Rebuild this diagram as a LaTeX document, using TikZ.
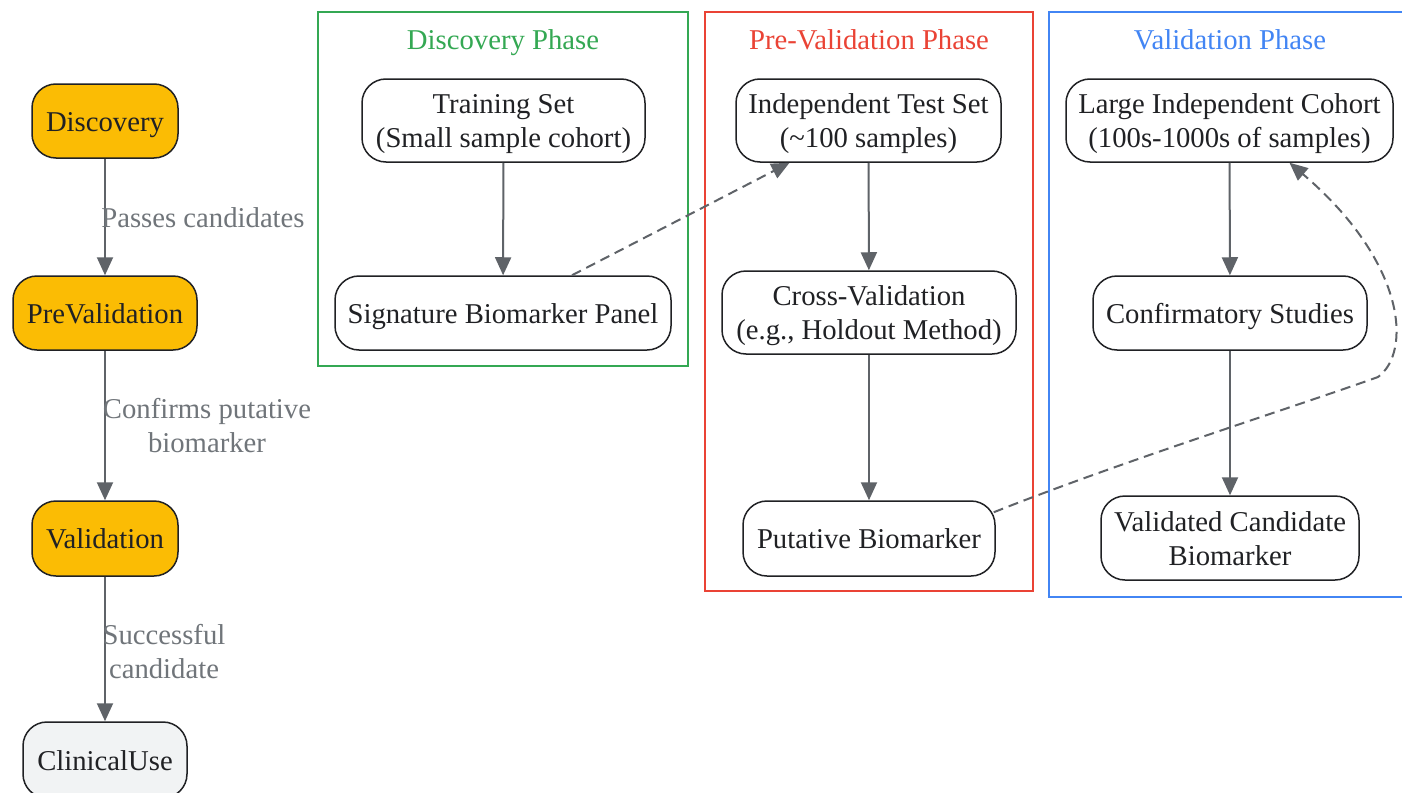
\documentclass[tikz,border=0pt]{standalone}
\usepackage{fontspec}
\setmainfont{Liberation Serif}
\usetikzlibrary{arrows.meta}
\definecolor{hl}{HTML}{FBBC04}
\definecolor{cu}{HTML}{F1F3F4}
\definecolor{edgec}{HTML}{5F6368}
\definecolor{lblc}{HTML}{70757A}
\definecolor{grc}{HTML}{34A853}
\definecolor{rdc}{HTML}{EA4335}
\definecolor{blc}{HTML}{4285F4}
\definecolor{ink}{HTML}{202124}
\newcommand{\bigfont}{\fontsize{28.7}{34}\selectfont}
\tikzset{
  box/.style={draw=ink, line width=1.5pt, rounded corners=24pt, fill=white, inner sep=0pt},
  txt/.style={text=ink, font=\bigfont, align=center, inner sep=0pt, yshift=-3.5pt},
  flow/.style={draw=edgec, line width=2pt, -{Triangle[length=18pt,width=16pt]}},
  dflow/.style={flow, dash pattern=on 10pt off 6pt},
  elab/.style={text=lblc, font=\bigfont, align=center, inner sep=0pt},
  phase/.style={line width=1.5pt},
  ptitle/.style={font=\bigfont, inner sep=0pt}
}
\begin{document}
\begin{tikzpicture}[x=1pt,y=-1pt]
\useasboundingbox[fill=white] (0,0) rectangle (1402,792);

% phase frames
\draw[phase, draw=grc] (318,12) rectangle (688,366);
\node[ptitle, text=grc] (tdisc) at (503,42.5) {\strut Discovery Phase};
\draw[phase, draw=rdc] (705,12) rectangle (1033,591);
\node[ptitle, text=rdc] (tpre) at (869,42.5) {\strut Pre-Validation Phase};
\draw[phase, draw=blc] (1049,12) rectangle (1412,597);
\node[ptitle, text=blc] (tval) at (1230,42.5) {\strut Validation Phase};

% left column
\node[box, fill=hl, minimum width=146pt, minimum height=74pt,
  label={[txt]center:\strut Discovery}] (disc) at (105,121) {};
\node[box, fill=hl, minimum width=184pt, minimum height=74pt,
  label={[txt]center:\strut PreValidation}] (prev) at (105,313) {};
\node[box, fill=hl, minimum width=146pt, minimum height=75pt,
  label={[txt]center:\strut Validation}] (val) at (105,538.5) {};
\node[box, fill=cu, minimum width=164pt, minimum height=76pt,
  label={[txt]center:\strut ClinicalUse}] (clin) at (105,760) {};

\draw[flow] (disc) -- (prev);
\draw[flow] (prev) -- (val);
\draw[flow] (val) -- (clin);
\node[elab] (l1) at (203,218) {Passes candidates};
\node[elab] (l2) at (207,426) {Confirms putative\\biomarker};
\node[elab] (l3) at (164,652) {Successful\\candidate};

% discovery phase
\node[box, minimum width=283pt, minimum height=83pt,
  label={[txt]center:{\strut Training Set\\\strut (Small sample cohort)}}] (ts) at (503.5,120.5) {};
\node[box, minimum width=336pt, minimum height=74pt,
  label={[txt]center:\strut Signature Biomarker Panel}] (sig) at (503,313) {};
\draw[flow] (ts) -- (sig);

% pre-validation phase
\node[box, minimum width=265pt, minimum height=83pt,
  label={[txt]center:{\strut Independent Test Set\\\strut (\textasciitilde100 samples)}}] (its) at (868.5,120.5) {};
\node[box, minimum width=294pt, minimum height=83pt,
  label={[txt]center:{\strut Cross-Validation\\\strut (e.g., Holdout Method)}}] (cv) at (869,312.5) {};
\node[box, minimum width=252pt, minimum height=75pt,
  label={[txt]center:\strut Putative Biomarker}] (put) at (869,538.5) {};
\draw[flow] (its) -- (cv);
\draw[flow] (cv) -- (put);

% validation phase
\node[box, minimum width=327pt, minimum height=83pt,
  label={[txt]center:{\strut Large Independent Cohort\\\strut (100s-1000s of samples)}}] (lic) at (1229.5,120.5) {};
\node[box, minimum width=274pt, minimum height=74pt,
  label={[txt]center:\strut Confirmatory Studies}] (conf) at (1230,313) {};
\node[box, minimum width=258pt, minimum height=84pt,
  label={[txt]center:{\strut Validated Candidate\\\strut Biomarker}}] (vcb) at (1230,538) {};
\draw[flow] (lic) -- (conf);
\draw[flow] (conf) -- (vcb);

% cross-phase dashed links
\draw[dflow] ([xshift=69pt]sig.north) -- ([xshift=-79pt]its.south);
\draw[dflow] ([xshift=-2pt,yshift=-12pt]put.north east)
  .. controls (1120,462) and (1300,405) .. (1378,377)
  .. controls (1412,352) and (1406,262) .. ([xshift=60pt]lic.south);
\end{tikzpicture}
\end{document}
